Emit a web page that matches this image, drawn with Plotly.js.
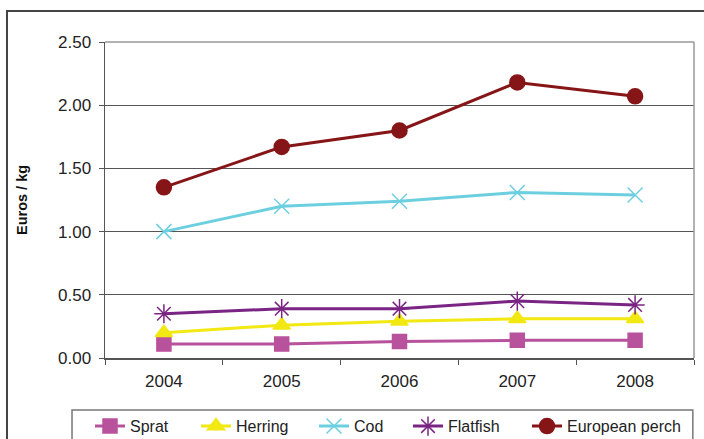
<!DOCTYPE html>
<html>
<head>
<meta charset="utf-8">
<script src="https://cdn.plot.ly/plotly-3.0.1.min.js"></script>
<style>html,body{margin:0;padding:0;background:#fff;}#chart{width:704px;height:439px;}</style>
</head>
<body>
<div id="chart"></div>
<script>
const years = ['2004', '2005', '2006', '2007', '2008'];
const sprat = [0.11, 0.11, 0.13, 0.14, 0.14];
const herring = [0.20, 0.26, 0.29, 0.31, 0.31];
const cod = [1.00, 1.20, 1.24, 1.31, 1.29];
const flatfish = [0.35, 0.39, 0.39, 0.45, 0.42];
const perch = [1.35, 1.67, 1.80, 2.18, 2.07];
const yTicks = [0, 0.5, 1.0, 1.5, 2.0, 2.5];

const FONT = 'Liberation Sans, Arial, sans-serif';

function tr(name, y, color, symbol, size, legendId) {
  return {
    type: 'scatter', mode: 'lines+markers', name: name, x: years, y: y,
    legend: legendId,
    line: {color: color, width: 3},
    marker: {symbol: symbol, size: size, color: color, line: {color: color, width: 1.5}}
  };
}

const data = [
  tr('Sprat', sprat, '#B9529C', 'square', 14, 'legend'),
  tr('Herring', herring, '#F2E812', 'triangle-up', 15, 'legend2'),
  tr('Cod', cod, '#6CCFE0', 'x-thin-open', 15, 'legend3'),
  tr('Flatfish', flatfish, '#7A2484', 'asterisk-open', 16, 'legend4'),
  tr('European perch', perch, '#861517', 'circle', 15, 'legend5')
];

// text start positions (px) of each legend entry
const legendTextX = [130, 236, 354, 448, 567];
function leg(px) {
  return {
    orientation: 'h', xref: 'paper', x: (px - 40 - 105) / 589, xanchor: 'left',
    yref: 'container', y: 0.068, yanchor: 'top',
    font: {size: 16, color: '#222', family: FONT}, bgcolor: 'rgba(0,0,0,0)', borderwidth: 0
  };
}

const layout = {
  width: 704, height: 439,
  margin: {l: 105, r: 10, t: 42, b: 81},
  paper_bgcolor: '#fff', plot_bgcolor: '#fff',
  font: {family: FONT, size: 16, color: '#222'},
  showlegend: true,
  legend: leg(legendTextX[0]),
  legend2: leg(legendTextX[1]),
  legend3: leg(legendTextX[2]),
  legend4: leg(legendTextX[3]),
  legend5: leg(legendTextX[4]),
  xaxis: {
    type: 'category', range: [-0.5, 4.5], tickson: 'boundaries', ticks: 'outside', ticklen: 5, tickcolor: '#555',
    showline: true, linecolor: '#555', linewidth: 1.5, showgrid: false,
    tickfont: {size: 17, color: '#222'}, ticklabelstandoff: 7, automargin: false, fixedrange: true
  },
  yaxis: {
    range: [0, 2.5], tickvals: yTicks, tickformat: '.2f', ticks: 'outside', ticklen: 5, tickcolor: '#555',
    showline: true, linecolor: '#555', linewidth: 1.5,
    showgrid: true, gridcolor: '#555', gridwidth: 1, zeroline: false,
    tickfont: {size: 17, color: '#222'}, ticklabelstandoff: 4, automargin: false,
    title: {text: 'Euros / kg', font: {size: 14.5, color: '#111', family: FONT, weight: 'bold'}, standoff: 27},
    fixedrange: true
  },
  shapes: [
    {type: 'line', xref: 'paper', yref: 'paper', x0: 0, x1: 1, y0: 1, y1: 1, line: {color: '#999', width: 1.5}, layer: 'above'},
    {type: 'line', xref: 'paper', yref: 'paper', x0: 1, x1: 1, y0: 0, y1: 1, line: {color: '#999', width: 1.5}, layer: 'above'},
    {type: 'rect', xref: 'paper', yref: 'paper', x0: -0.1664, x1: 1.05, y0: -0.5, y1: 1.098, line: {color: '#444', width: 2}, layer: 'below'},
    {type: 'rect', xref: 'paper', yref: 'paper', x0: -0.056, x1: 0.998, y0: -0.30, y1: -0.1646, line: {color: '#777', width: 1.5}, layer: 'below'}
  ]
};

Plotly.newPlot('chart', data, layout, {displayModeBar: false, staticPlot: true});
</script>
</body>
</html>
